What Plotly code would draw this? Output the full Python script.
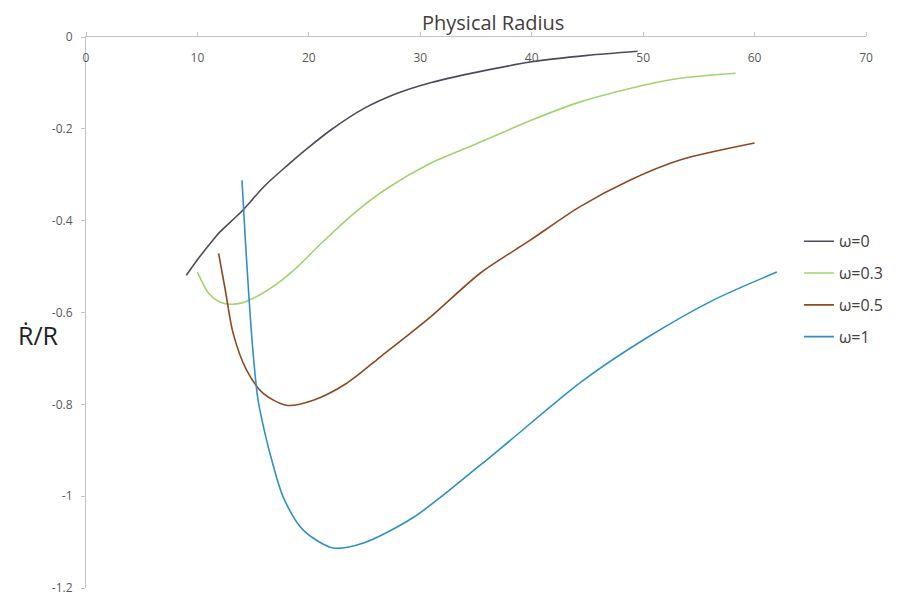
import plotly.graph_objects as go

# ---- data ----
x_w0 = [9.0, 10.0, 11.4, 12.0, 14.0, 16.0, 18.0, 20.0, 22.0, 25.0, 28.0, 31.0, 35.0, 40.0, 45.0, 49.5]
y_w0 = [-0.519, -0.485, -0.442, -0.425, -0.379, -0.325, -0.281, -0.240, -0.202, -0.155, -0.122, -0.099, -0.077, -0.054, -0.040, -0.031]

x_w03 = [10.0, 11.0, 12.0, 13.0, 14.0, 15.5, 17.0, 19.0, 21.0, 24.0, 27.0, 31.0, 35.0, 40.0, 44.0, 49.0, 53.0, 58.3]
y_w03 = [-0.512, -0.558, -0.577, -0.582, -0.579, -0.563, -0.540, -0.500, -0.452, -0.385, -0.330, -0.274, -0.233, -0.181, -0.144, -0.111, -0.091, -0.079]

x_w05 = [11.9, 12.5, 13.2, 14.4, 15.9, 18.0, 20.4, 23.4, 26.4, 30.9, 35.4, 39.9, 44.3, 48.8, 53.3, 60.0]
y_w05 = [-0.471, -0.551, -0.645, -0.725, -0.776, -0.802, -0.791, -0.754, -0.697, -0.610, -0.514, -0.442, -0.370, -0.312, -0.268, -0.231]

x_w1 = [14.0, 14.3, 14.9, 15.4, 15.8, 16.5, 17.7, 19.5, 22.2, 24.9, 29.4, 35.4, 38.1, 44.5, 50.4, 56.3, 62.0]
y_w1 = [-0.312, -0.442, -0.660, -0.784, -0.835, -0.906, -1.002, -1.074, -1.113, -1.102, -1.046, -0.932, -0.878, -0.750, -0.654, -0.573, -0.512]

series_names = ["ω=0", "ω=0.3", "ω=0.5", "ω=1"]
x_tickvals = [0, 10, 20, 30, 40, 50, 60, 70]
y_tickvals = [0, -0.2, -0.4, -0.6, -0.8, -1.0, -1.2]
y_ticktext = ["0", "-0.2", "-0.4", "-0.6", "-0.8", "-1", "-1.2"]

colors = ["#4b4b5c", "#a3d36e", "#8a4a22", "#2f91c6"]

fig = go.Figure()
for i, (xs, ys) in enumerate([(x_w0, y_w0), (x_w03, y_w03), (x_w05, y_w05), (x_w1, y_w1)]):
    fig.add_trace(go.Scatter(
        x=xs, y=ys, mode="lines", name=series_names[i],
        legendgroup=series_names[i], cliponaxis=False,
        line=dict(color=colors[i], width=1.6, shape="spline", smoothing=0.8),
    ))

axis_col = "#c4c4c4"
# page has an 8px body margin; figure sized so it fits the window
fig.update_layout(
    width=883, height=589,
    paper_bgcolor="white", plot_bgcolor="white",
    margin=dict(l=78, r=25, t=29, b=9, autoexpand=False),
    showlegend=True,
    font=dict(family="Open Sans, Liberation Sans, sans-serif", color="#404040"),
    legend=dict(
        x=0.914, y=0.66, xanchor="left", yanchor="top",
        font=dict(size=16, color="#404040"),
        bgcolor="rgba(0,0,0,0)", itemwidth=30,
        traceorder="grouped", tracegroupgap=8,
    ),
    xaxis=dict(
        side="top", range=[0, 70], tickvals=x_tickvals,
        showline=True, linecolor=axis_col, linewidth=1,
        ticks="outside", ticklen=4, tickcolor=axis_col,
        ticklabelposition="inside", ticklabeloverflow="allow",
        ticklabelstandoff=16,
        tickfont=dict(size=12, color="#595959"),
        showgrid=False, zeroline=False, automargin=False,
    ),
    yaxis=dict(
        range=[-1.2, 0], tickvals=y_tickvals, ticktext=y_ticktext,
        showline=True, linecolor=axis_col, linewidth=1,
        ticks="outside", ticklen=4, tickcolor=axis_col,
        ticklabeloverflow="allow", ticklabelstandoff=6,
        tickfont=dict(size=12, color="#595959"),
        showgrid=False, zeroline=False, automargin=False,
    ),
    annotations=[
        dict(text="Physical Radius", x=0.522, y=1.027, xref="paper", yref="paper",
             xanchor="center", yanchor="middle", showarrow=False,
             font=dict(size=20, color="#404040")),
        dict(text="Ṙ/R", x=-0.0615, y=0.459, xref="paper", yref="paper",
             xanchor="center", yanchor="middle", showarrow=False,
             font=dict(size=25, color="#222222")),
    ],
)

fig.write_html("out.html")
